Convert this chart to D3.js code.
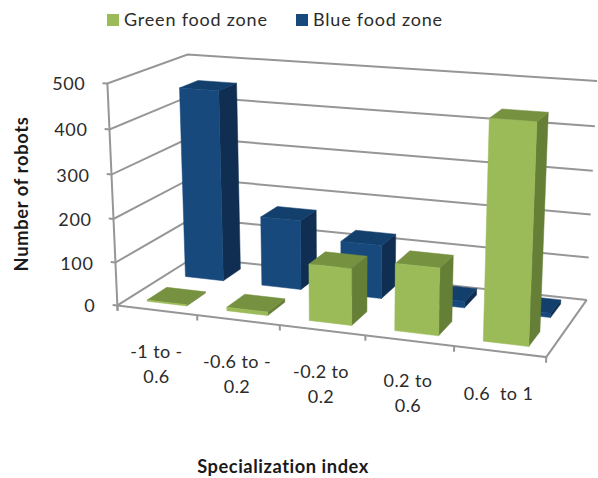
<!DOCTYPE html>
<html><head><meta charset="utf-8">
<style>html,body{margin:0;padding:0;background:#fff}svg{display:block}text{font-family:Lato,"Open Sans",sans-serif}</style>
<script src="https://cdn.jsdelivr.net/npm/d3@7"></script></head>
<body><svg id="chart" width="598" height="478"></svg>
<script>
// Chart content
const categories = ["-1 to -0.6", "-0.6 to -0.2", "-0.2 to 0.2", "0.2 to 0.6", "0.6 to 1"];
const categoryLines = [["-1 to -", "0.6"], ["-0.6 to -", "0.2"], ["-0.2 to", "0.2"], ["0.2 to", "0.6"], ["0.6  to 1"]];
const seriesNames = ["Green food zone", "Blue food zone"];
const greenValues = [3, 8, 128, 150, 475];
const blueValues = [450, 164, 125, 15, 10];
const valueTicks = [0, 100, 200, 300, 400, 500];

const palette = {
  "Green food zone": {front: "#9bbb59", top: "#769140", side: "#667f37"},
  "Blue food zone": {front: "#17497d", top: "#123f6c", side: "#0f2e51"}
};
const gridColor = "#969696";

// Scales in the unit box of the 3D plot
const x = d3.scaleBand().domain(categories).range([0, 1]).paddingInner(0.5).paddingOuter(0.25);
const y = d3.scaleLinear().domain([0, 500]).range([0, 1]);
const z = d3.scaleBand().domain(seriesNames).range([0, 1]).paddingInner(0.5).paddingOuter(0.25);

// Perspective camera fitted to where the corners of the plot box fall on the page
const boxCorners = [
  [0, 0, 0, 118, 306], [1, 0, 0, 546, 357], [1, 0, 1, 587, 300], [0, 0, 1, 193, 257],
  [0, 1, 0, 107, 83], [0, 1, 1, 188, 55], [1, 1, 1, 597, 81]
];
function solveCamera(pts) {
  const rows = [];
  pts.forEach(([a, b, c, u, v]) => {
    rows.push([a, b, c, 1, 0, 0, 0, 0, -u * a, -u * b, -u * c, u]);
    rows.push([0, 0, 0, 0, a, b, c, 1, -v * a, -v * b, -v * c, v]);
  });
  const n = 11;
  const M = d3.range(n).map(i => d3.range(n + 1).map(j => d3.sum(rows, r => r[i] * r[j])));
  for (let i = 0; i < n; i++) {
    let p = i;
    for (let k = i + 1; k < n; k++) if (Math.abs(M[k][i]) > Math.abs(M[p][i])) p = k;
    [M[i], M[p]] = [M[p], M[i]];
    for (let k = 0; k < n; k++) {
      if (k === i) continue;
      const f = M[k][i] / M[i][i];
      for (let j = i; j <= n; j++) M[k][j] -= f * M[i][j];
    }
  }
  return M.map((r, i) => r[n] / r[i]);
}
const cam = solveCamera(boxCorners);
const project = (a, b, c) => {
  const w = cam[8] * a + cam[9] * b + cam[10] * c + 1;
  return [(cam[0] * a + cam[1] * b + cam[2] * c + cam[3]) / w,
          (cam[4] * a + cam[5] * b + cam[6] * c + cam[7]) / w];
};
const path = pts => "M" + pts.map(p => p.map(v => v.toFixed(2)).join(",")).join("L") + "Z";
const line = pts => "M" + pts.map(p => p.map(v => v.toFixed(2)).join(",")).join("L");

const svg = d3.select("#chart");

// Walls: gridlines on the left and back walls
const grid = svg.append("g").attr("fill", "none").attr("stroke", gridColor).attr("stroke-width", 2);
grid.selectAll("path").data(valueTicks).join("path")
  .attr("d", t => line([project(-0.012, y(t), 0), project(0, y(t), 0), project(0, y(t), 1), project(1, y(t), 1)]));

// Floor edges, vertical axis and category ticks
const frame = svg.append("g").attr("fill", "none").attr("stroke", gridColor).attr("stroke-width", 2);
frame.append("path").attr("d", line([project(0, 0, 0), project(1, 0, 0), project(1, 0, 1)]));
frame.append("path").attr("d", line([project(0, -0.025, 0), project(0, 1, 0)]));
frame.selectAll(".tick").data(d3.range(categories.length + 1)).join("path").attr("class", "tick")
  .attr("d", i => {
    const a = i * x.step();
    return line([project(a, 0, 0), project(a, -0.025, 0)]);
  });

// Columns, back row first, each row from left to right
const rows = [
  {name: seriesNames[1], values: blueValues},
  {name: seriesNames[0], values: greenValues}
];
rows.forEach(row => {
  const c = palette[row.name];
  const g = svg.append("g").attr("class", "series");
  const z0 = z(row.name), z1 = z0 + z.bandwidth();
  categories.forEach((cat, i) => {
    const x0 = x(cat), x1 = x0 + x.bandwidth(), h = y(row.values[i]);
    const bar = g.append("g");
    bar.append("path").attr("fill", c.side).attr("stroke", c.side).attr("stroke-width", 0.5)
      .attr("d", path([project(x1, 0, z0), project(x1, 0, z1), project(x1, h, z1), project(x1, h, z0)]));
    bar.append("path").attr("fill", c.top).attr("stroke", c.top).attr("stroke-width", 0.5)
      .attr("d", path([project(x0, h, z0), project(x1, h, z0), project(x1, h, z1), project(x0, h, z1)]));
    bar.append("path").attr("fill", c.front).attr("stroke", c.front).attr("stroke-width", 0.5)
      .attr("d", path([project(x0, 0, z0), project(x1, 0, z0), project(x1, h, z0), project(x0, h, z0)]));
  });
});

// Value labels beside the vertical axis
svg.append("g").selectAll("text").data(valueTicks).join("text")
  .attr("x", t => project(0, y(t), 0)[0] - 22)
  .attr("y", t => project(0, y(t), 0)[1] + 7)
  .attr("text-anchor", "end").attr("font-size", 18).attr("letter-spacing", 0.6).attr("fill", "#2b2b2b")
  .text(t => t);

// Category labels under the floor
const labelAnchors = [[156.5, 351], [237, 361], [321, 371], [408, 380], [498.5, 393]];
const labels = svg.append("g").attr("text-anchor", "middle").attr("font-size", 18)
  .attr("letter-spacing", 0.4).attr("fill", "#2b2b2b");
categoryLines.forEach((lines, i) => {
  const t = labels.append("text");
  lines.forEach((s, k) => t.append("tspan").attr("x", labelAnchors[i][0]).attr("y", labelAnchors[i][1] + 6.5 + k * 25.5)
    .attr("xml:space", "preserve").text(s));
});

// Axis titles
svg.append("text").attr("x", 283).attr("y", 473).attr("text-anchor", "middle")
  .attr("font-size", 18.3).attr("font-weight", 700).attr("letter-spacing", 0.55).attr("fill", "#1a1a1a").text("Specialization index");
svg.append("text").attr("transform", "translate(28,194) rotate(-90)").attr("text-anchor", "middle")
  .attr("font-size", 18.3).attr("font-weight", 700).attr("letter-spacing", 0.67).attr("fill", "#1a1a1a").text("Number of robots");

// Legend
const legendX = [107, 296];
const legend = svg.append("g").selectAll("g").data(seriesNames).join("g")
  .attr("transform", (d, i) => `translate(${legendX[i]},14)`);
legend.append("rect").attr("width", 12).attr("height", 12).attr("fill", d => palette[d].front);
legend.append("text").attr("x", 17).attr("y", 11.5).attr("font-size", 18).attr("letter-spacing", 0.8).attr("fill", "#2b2b2b").text(d => d);
</script></body></html>
